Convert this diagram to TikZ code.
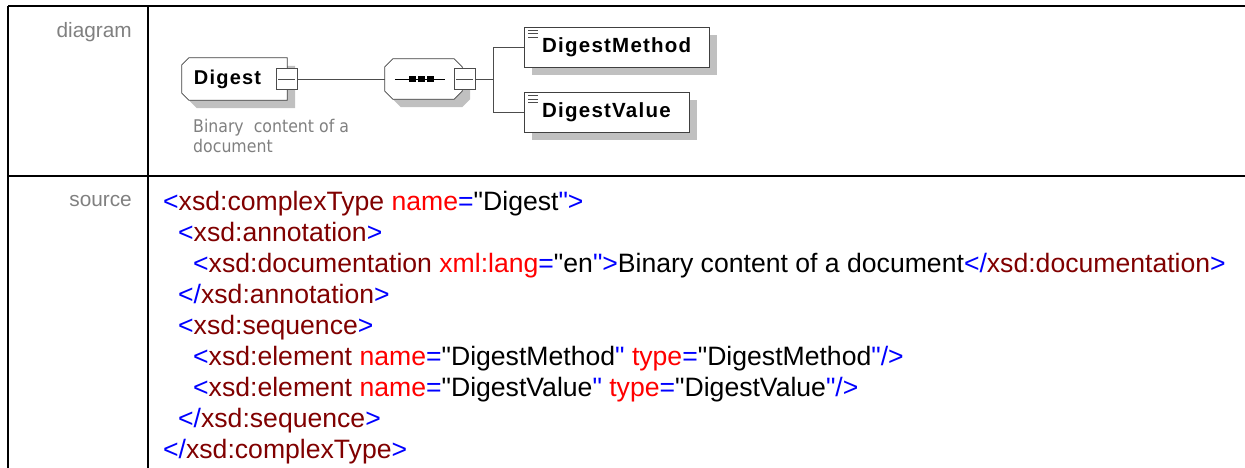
\documentclass[tikz,border=0pt]{standalone}
\usepackage{fontspec}
\setmainfont{Liberation Sans}[Ligatures=TeXOff]
\newfontfamily\boxfont{Liberation Sans}[LetterSpace=6]
\newfontfamily\notefont{DejaVu Sans}[FakeStretch=0.9]
\usetikzlibrary{shadows,backgrounds}
\definecolor{tagblue}{HTML}{0000FF}
\definecolor{tagred}{HTML}{800000}
\definecolor{attred}{HTML}{FF0000}
\definecolor{labelgray}{HTML}{808080}
\definecolor{shade}{HTML}{C0C0C0}
\newcommand\xb[1]{\textcolor{tagblue}{#1}}
\newcommand\xn[1]{\textcolor{tagred}{#1}}
\newcommand\xa[1]{\textcolor{attred}{#1}}
% outline of a type box: node, left chamfer, right chamfer
\newcommand\octpath[3]{([xshift=#2pt]#1.north west) -- ([xshift=-#3pt]#1.north east)
  -- ([yshift=-#3pt]#1.north east) -- ([yshift=#3pt]#1.south east) -- ([xshift=-#3pt]#1.south east)
  -- ([xshift=#2pt]#1.south west) -- ([yshift=#2pt]#1.south west) -- ([yshift=-#2pt]#1.north west) -- cycle}

\begin{document}
\begin{tikzpicture}[x=1pt,y=-1pt,
  rowlabel/.style={anchor=base east,text=labelgray,inner sep=0pt,font=\fontsize{20.8}{24}\selectfont},
  srcline/.style={anchor=base west,inner sep=0pt,font=\fontsize{26.6}{31}\selectfont},
  shade box/.style={drop shadow={shadow xshift=8pt,shadow yshift=-8pt,opacity=1,fill=shade}},
  typebox/.style={inner sep=0pt,font=\boxfont\bfseries\fontsize{20}{24}\selectfont},
  typeshade/.style={fill=shade,transform canvas={shift={(8pt,-8pt)}}},
  typeline/.style={draw=black!75,fill=white,line width=0.8pt},
  minusbox/.style={draw=black!70,fill=white,minimum width=21pt,minimum height=21pt,inner sep=0pt,
    path picture={\draw[black!70] ([xshift=2pt]path picture bounding box.west) -- ([xshift=-2pt]path picture bounding box.east);}},
  elembox/.style={draw=black!75,fill=white,minimum height=40pt,inner xsep=18pt,inner ysep=0pt,shade box,
    font=\boxfont\bfseries\fontsize{20.5}{24}\selectfont,
    path picture={\foreach \k in {3,6.5,10}
      \draw[black!70] ([shift={(4pt,-\k pt)}]path picture bounding box.north west) -- ++(10pt,0pt);}},
  link/.style={draw=black!70,line width=0.8pt}]
\useasboundingbox (0,0) rectangle (1245,468);

\draw[line width=2pt] (8,6) -- (1245,6);
\draw[line width=2pt] (8,176) -- (1245,176);
\draw[line width=2pt] (8,6) -- (8,468);
\draw[line width=2pt] (148,6) -- (148,468);

\node[rowlabel] (lbldiagram) at (132,38) {diagram};
\node[rowlabel] (lblsource) at (132,206) {source};

\node[typebox,minimum width=105pt,minimum height=42pt] (digest) at (234.5,79) {Digest\hspace*{14pt}};
\node[typebox,minimum width=77pt,minimum height=40pt] (seq) at (423.5,79) {};
\begin{scope}[on background layer]
\fill[typeshade] \octpath{digest}{7}{0};
\path[typeline] \octpath{digest}{7}{0};
\fill[typeshade] \octpath{seq}{8}{8};
\path[typeline] \octpath{seq}{8}{8};
\end{scope}
\node[minusbox] (digestminus) at (286.5,79) {};
\node[anchor=north west,inner sep=0pt,align=left,text=labelgray,font=\notefont\fontsize{17.5}{20}\selectfont]
  (note) at (193,119) {Binary\ \ content of a\\document};

\draw[black,line width=0.8pt] ([xshift=10pt]seq.west) -- ([xshift=60pt]seq.west);
\foreach \dx in {27.5,36.5,45.5}
  \fill[black] ([xshift=\dx pt]seq.west) ++(-3.5,-3) rectangle ++(7,6);
\node[minusbox] (seqminus) at (464.5,79) {};

\coordinate (fork) at (493,79);
\node[elembox,anchor=west] (method) at (524,47) {DigestMethod};
\node[elembox,anchor=west] (value) at (524,112.5) {DigestValue};

\draw[link] (digestminus.east) -- (seq.west);
\draw[link] (seqminus.east) -- (fork);
\draw[link] (fork) |- (method.west);
\draw[link] (fork) |- (value.west);

\node[srcline] (src1) at (163,210) {\xb{<}\xn{xsd:complexType} \xa{name}\xb{=}"Digest\xb{">}};
\node[srcline] (src2) at (178,241) {\xb{<}\xn{xsd:annotation}\xb{>}};
\node[srcline] (src3) at (193,272) {\xb{<}\xn{xsd:documentation} \xa{xml:lang}\xb{=}"en\xb{">}Binary content of a document\xb{</}\xn{xsd:documentation}\xb{>}};
\node[srcline] (src4) at (178,303) {\xb{</}\xn{xsd:annotation}\xb{>}};
\node[srcline] (src5) at (178,334) {\xb{<}\xn{xsd:sequence}\xb{>}};
\node[srcline] (src6) at (193,365) {\xb{<}\xn{xsd:element} \xa{name}\xb{=}"DigestMethod\xb{"} \xa{type}\xb{=}"DigestMethod\xb{"/>}};
\node[srcline] (src7) at (193,396) {\xb{<}\xn{xsd:element} \xa{name}\xb{=}"DigestValue\xb{"} \xa{type}\xb{=}"DigestValue\xb{"/>}};
\node[srcline] (src8) at (178,427) {\xb{</}\xn{xsd:sequence}\xb{>}};
\node[srcline] (src9) at (163,458) {\xb{</}\xn{xsd:complexType}\xb{>}};
\end{tikzpicture}
\end{document}
